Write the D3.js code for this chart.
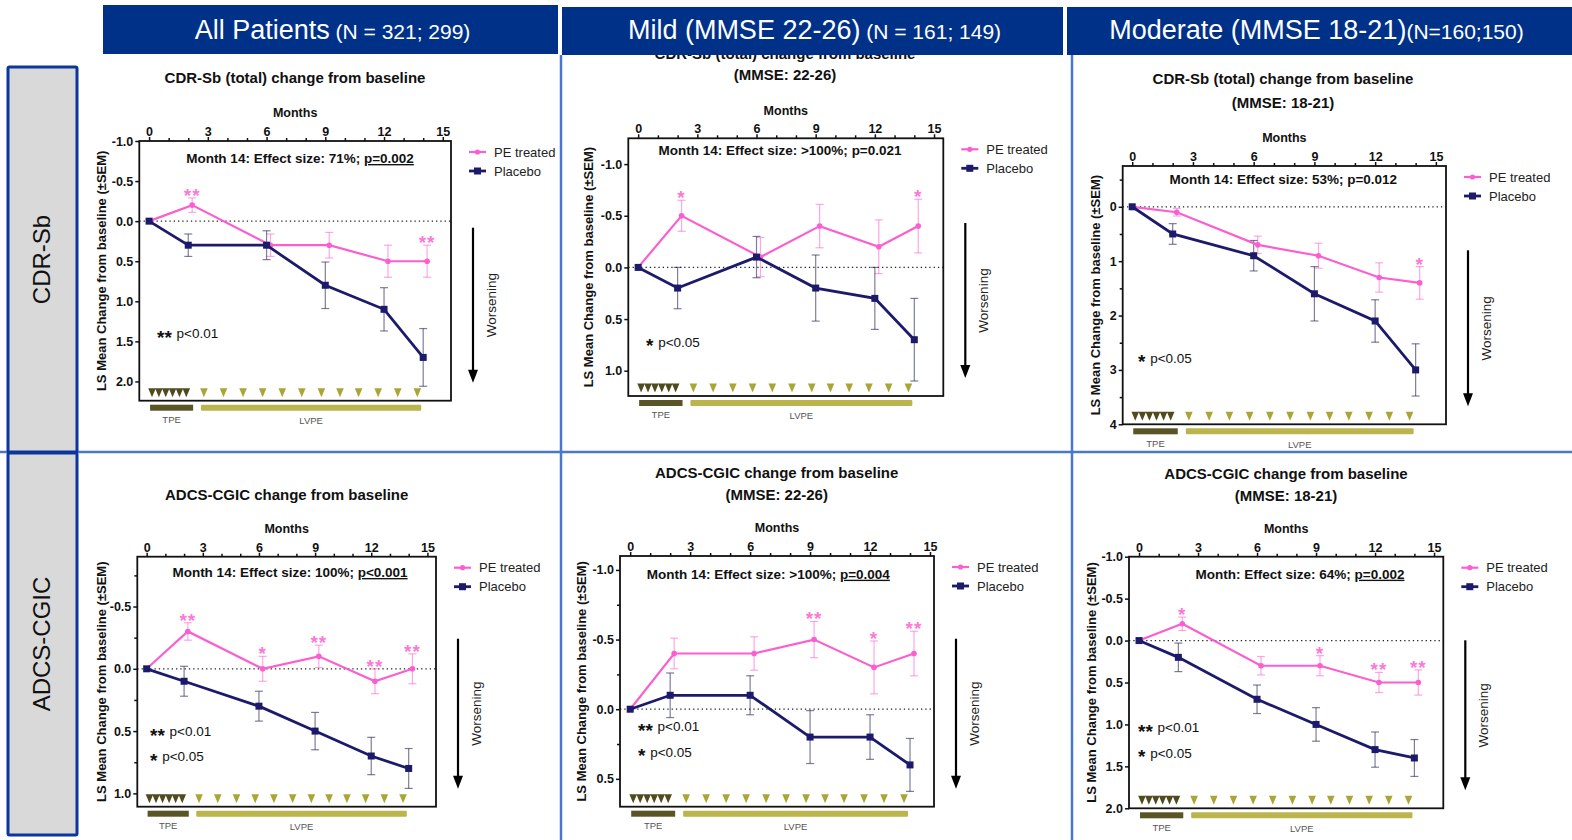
<!DOCTYPE html>
<html><head><meta charset="utf-8">
<script src="https://cdn.jsdelivr.net/npm/d3@7"></script>
<style>body{margin:0;background:#fff}svg{display:block}</style>
</head><body>
<svg id="c" width="1572" height="840"></svg>
<script>
// ---------- DATA ----------
const headerMain = ["All Patients", "Mild (MMSE 22-26)", "Moderate (MMSE 18-21)"];
const headerN = [" (N = 321; 299)", " (N = 161; 149)", "(N=160;150)"];
const rowLabels = ["CDR-Sb", "ADCS-CGIC"];
const seriesNames = ["PE treated", "Placebo"];

const monthsPE = [0, 2.2, 6.2, 9.2, 12.2, 14.2];
const monthsPlacebo = [0, 2, 6, 9, 12, 14];
const xMajorTicks = [0, 3, 6, 9, 12, 15];
const xMinorTicks = [1, 2, 4, 5, 7, 8, 10, 11, 13, 14];
const tpeMonths = [0.15, 0.5, 0.85, 1.2, 1.55, 1.9];
const lvpeMonths = [2.8, 3.8, 4.8, 5.8, 6.8, 7.8, 8.8, 9.75, 10.7, 11.7, 12.7, 13.7];
const tpeSpan = [0.05, 2.25];
const lvpeSpan = [2.65, 13.9];

// CDR-Sb, all patients
const allCdrPE = [0, -0.2, 0.3, 0.3, 0.5, 0.5];
const allCdrPESem = [0, 0.09, 0.14, 0.16, 0.2, 0.2];
const allCdrPlacebo = [0, 0.3, 0.3, 0.8, 1.1, 1.7];
const allCdrPlaceboSem = [0, 0.14, 0.18, 0.29, 0.27, 0.36];
const allCdrStars = ["", "**", "", "", "", "**"];
// CDR-Sb, mild
const mildCdrPE = [0, -0.5, -0.1, -0.4, -0.2, -0.4];
const mildCdrPESem = [0, 0.15, 0.19, 0.21, 0.26, 0.26];
const mildCdrPlacebo = [0, 0.2, -0.1, 0.2, 0.3, 0.7];
const mildCdrPlaceboSem = [0, 0.2, 0.2, 0.32, 0.3, 0.4];
const mildCdrStars = ["", "*", "", "", "", "*"];
// CDR-Sb, moderate
const modCdrPE = [0, 0.1, 0.7, 0.9, 1.3, 1.4];
const modCdrPESem = [0, 0.07, 0.16, 0.23, 0.27, 0.3];
const modCdrPlacebo = [0, 0.5, 0.9, 1.6, 2.1, 3.0];
const modCdrPlaceboSem = [0, 0.19, 0.28, 0.5, 0.39, 0.48];
const modCdrStars = ["", "", "", "", "", "*"];
// ADCS-CGIC, all patients
const allAdcsPE = [0, -0.3, 0, -0.1, 0.1, 0];
const allAdcsPESem = [0, 0.07, 0.1, 0.09, 0.1, 0.12];
const allAdcsPlacebo = [0, 0.1, 0.3, 0.5, 0.7, 0.8];
const allAdcsPlaceboSem = [0, 0.12, 0.12, 0.15, 0.15, 0.16];
const allAdcsStars = ["", "**", "*", "**", "**", "**"];
// ADCS-CGIC, mild
const mildAdcsPE = [0, -0.4, -0.4, -0.5, -0.3, -0.4];
const mildAdcsPESem = [0, 0.11, 0.12, 0.13, 0.19, 0.16];
const mildAdcsPlacebo = [0, -0.1, -0.1, 0.2, 0.2, 0.4];
const mildAdcsPlaceboSem = [0, 0.16, 0.14, 0.19, 0.16, 0.19];
const mildAdcsStars = ["", "", "", "**", "*", "**"];
// ADCS-CGIC, moderate
const modAdcsPE = [0, -0.2, 0.3, 0.3, 0.5, 0.5];
const modAdcsPESem = [0, 0.08, 0.11, 0.12, 0.12, 0.15];
const modAdcsPlacebo = [0, 0.2, 0.7, 1.0, 1.3, 1.4];
const modAdcsPlaceboSem = [0, 0.17, 0.17, 0.2, 0.21, 0.22];
const modAdcsStars = ["", "*", "", "*", "**", "**"];

// tick labels
const yTicksAllCdr = [-1, -0.5, 0, 0.5, 1, 1.5, 2];
const yTicksMildCdr = [-1, -0.5, 0, 0.5, 1];
const yTicksModCdr = [0, 1, 2, 3, 4];
const yMinorModCdr = [-0.5, 0.5, 1.5, 2.5, 3.5];
const yTicksAllAdcs = [-0.5, 0, 0.5, 1];
const yMinorAllAdcs = [-0.75, -0.25, 0.25, 0.75];
const yTicksMildAdcs = [-1, -0.5, 0, 0.5];
const yMinorMildAdcs = [-0.75, -0.25, 0.25];
const yTicksModAdcs = [-1, -0.5, 0, 0.5, 1, 1.5, 2];

// texts
const titlesAllCdr = ["CDR-Sb (total) change from baseline"];
const titlesMildCdr = ["CDR-Sb (total) change from baseline", "(MMSE: 22-26)"];
const titlesModCdr = ["CDR-Sb (total) change from baseline", "(MMSE: 18-21)"];
const titlesAllAdcs = ["ADCS-CGIC change from baseline"];
const titlesMildAdcs = ["ADCS-CGIC change from baseline", "(MMSE: 22-26)"];
const titlesModAdcs = ["ADCS-CGIC change from baseline", "(MMSE: 18-21)"];
const effAllCdr = ["Month 14: Effect size: 71%; ", "p=0.002", true];
const effMildCdr = ["Month 14: Effect size: >100%; ", "p=0.021", false];
const effModCdr = ["Month 14: Effect size: 53%; ", "p=0.012", false];
const effAllAdcs = ["Month 14: Effect size: 100%; ", "p<0.001", true];
const effMildAdcs = ["Month 14: Effect size: >100%; ", "p=0.004", true];
const effModAdcs = ["Month: Effect size: 64%; ", "p=0.002", true];
const notesDouble = [["**", " p<0.01"], ["*", " p<0.05"]];
const notesSingle01 = [["**", " p<0.01"]];
const notesSingle05 = [["*", " p<0.05"]];

// ---------- LAYOUT ----------
const PINK = "#fb5fcf", NAVY = "#1d1a6c";
const FONT = "'Liberation Sans', Arial, Helvetica, sans-serif";
const panels = [
  {pe: allCdrPE, peSem: allCdrPESem, pl: allCdrPlacebo, plSem: allCdrPlaceboSem, stars: allCdrStars,
   titles: titlesAllCdr, eff: effAllCdr, notes: notesSingle01, yt: yTicksAllCdr, ym: [], fmt: 1,
   l: 139.3, r: 451, t: 141, b: 400.7, xd: [-0.5, 15.42], yd: [-1, 2.24],
   titleX: 295, titleY: [78], effX: 300, effY: 158.3, noteX: 157, noteY: [338.3], ylabX: 101.7, arrowH: 155},
  {pe: mildCdrPE, peSem: mildCdrPESem, pl: mildCdrPlacebo, plSem: mildCdrPlaceboSem, stars: mildCdrStars,
   titles: titlesMildCdr, eff: effMildCdr, notes: notesSingle05, yt: yTicksMildCdr, ym: [], fmt: 1,
   l: 628.3, r: 943.3, t: 138.3, b: 396, xd: [-0.5, 15.47], yd: [-1.25, 1.245],
   titleX: 785, titleY: [53.3, 74.3], effX: 780, effY: 150, noteX: 646, noteY: [346.7], ylabX: 588.3, arrowH: 155},
  {pe: modCdrPE, peSem: modCdrPESem, pl: modCdrPlacebo, plSem: modCdrPlaceboSem, stars: modCdrStars,
   titles: titlesModCdr, eff: effModCdr, notes: notesSingle05, yt: yTicksModCdr, ym: yMinorModCdr, fmt: 0,
   l: 1122.7, r: 1446, t: 166, b: 424.3, xd: [-0.47, 15.5], yd: [-0.75, 4],
   titleX: 1283, titleY: [79, 102.3], effX: 1283.3, effY: 179, noteX: 1138, noteY: [362.7], ylabX: 1095, arrowH: 156},
  {pe: allAdcsPE, peSem: allAdcsPESem, pl: allAdcsPlacebo, plSem: allAdcsPlaceboSem, stars: allAdcsStars,
   titles: titlesAllAdcs, eff: effAllAdcs, notes: notesDouble, yt: yTicksAllAdcs, ym: yMinorAllAdcs, fmt: 1,
   l: 137.3, r: 436, t: 556.7, b: 806.7, xd: [-0.5, 15.46], yd: [-0.9, 1.107],
   titleX: 286.7, titleY: [494.3], effX: 290, effY: 572.3, noteX: 150, noteY: [736, 761], ylabX: 101.7, arrowH: 150},
  {pe: mildAdcsPE, peSem: mildAdcsPESem, pl: mildAdcsPlacebo, plSem: mildAdcsPlaceboSem, stars: mildAdcsStars,
   titles: titlesMildAdcs, eff: effMildAdcs, notes: notesDouble, yt: yTicksMildAdcs, ym: yMinorMildAdcs, fmt: 1,
   l: 620, r: 934, t: 556, b: 806.7, xd: [-0.51, 15.2], yd: [-1.1, 0.7],
   titleX: 776.7, titleY: [472.3, 494.3], effX: 768.3, effY: 574, noteX: 638, noteY: [731, 756.7], ylabX: 581.7, arrowH: 150},
  {pe: modAdcsPE, peSem: modAdcsPESem, pl: modAdcsPlacebo, plSem: modAdcsPlaceboSem, stars: modAdcsStars,
   titles: titlesModAdcs, eff: effModAdcs, notes: notesDouble, yt: yTicksModAdcs, ym: [], fmt: 1,
   l: 1129, r: 1443.3, t: 556.7, b: 808.3, xd: [-0.51, 15.47], yd: [-1, 2],
   titleX: 1286, titleY: [473.3, 495.7], effX: 1300, effY: 574, noteX: 1138, noteY: [732.3, 757.7], ylabX: 1091.7, arrowH: 150}
];

const svg = d3.select("#c").attr("font-family", FONT);
svg.append("rect").attr("width", 1572).attr("height", 840).attr("fill", "#fff");

function fmtTick(d, dec) {
  return dec ? d.toFixed(1) : String(d);
}

function drawPanel(p) {
  const g = svg.append("g");
  const x = d3.scaleLinear().domain(p.xd).range([p.l, p.r]);
  const y = d3.scaleLinear().domain(p.yd).range([p.t, p.b]);
  const cx = (p.l + p.r) / 2, cy = (p.t + p.b) / 2;

  // titles
  p.titles.forEach((t, i) => g.append("text").attr("x", p.titleX).attr("y", p.titleY[i]).attr("dy", "0.35em")
    .attr("text-anchor", "middle").attr("font-weight", "bold").attr("font-size", 15).attr("fill", "#111").text(t));
  g.append("text").attr("x", cx).attr("y", p.t - 28).attr("dy", "0.35em").attr("text-anchor", "middle")
    .attr("font-weight", "bold").attr("font-size", 12.5).attr("fill", "#111").text("Months");

  // axes
  const top = g.append("g").attr("transform", `translate(0,${p.t})`)
    .call(d3.axisTop(x).tickValues(xMajorTicks).tickSize(4).tickPadding(1).tickFormat(d3.format("d")));
  const topMinor = g.append("g").attr("transform", `translate(0,${p.t})`)
    .call(d3.axisTop(x).tickValues(xMinorTicks).tickSize(3).tickFormat(""));
  const left = g.append("g").attr("transform", `translate(${p.l},0)`)
    .call(d3.axisLeft(y).tickValues(p.yt).tickSize(4).tickPadding(2).tickFormat(d => fmtTick(d, p.fmt)));
  const leftMinor = g.append("g").attr("transform", `translate(${p.l},0)`)
    .call(d3.axisLeft(y).tickValues(p.ym).tickSize(3).tickFormat(""));
  [top, topMinor, left, leftMinor].forEach(a => {
    a.select(".domain").remove();
    a.selectAll("line").attr("stroke", "#111").attr("stroke-width", 1.5);
    a.selectAll("text").attr("font-family", FONT).attr("font-weight", "bold").attr("font-size", 12.5).attr("fill", "#111");
  });

  // y label
  g.append("text").attr("transform", `translate(${p.ylabX},${cy}) rotate(-90)`).attr("dy", "0.35em")
    .attr("text-anchor", "middle").attr("font-weight", "bold").attr("font-size", 13).attr("fill", "#111")
    .text("LS Mean Change from baseline (\u00B1SEM)");

  // zero dotted line
  g.append("line").attr("x1", p.l).attr("x2", p.r).attr("y1", y(0)).attr("y2", y(0))
    .attr("stroke", "#222").attr("stroke-width", 1.3).attr("stroke-dasharray", "1.3,3");

  // effect text
  const et = g.append("text").attr("x", p.effX).attr("y", p.effY).attr("dy", "0.35em").attr("text-anchor", "middle")
    .attr("font-weight", "bold").attr("font-size", 13.5).attr("fill", "#111");
  et.append("tspan").text(p.eff[0]);
  et.append("tspan").attr("text-decoration", p.eff[2] ? "underline" : null).text(p.eff[1]);

  // notes
  p.notes.forEach((n, i) => {
    const nt = g.append("text").attr("x", p.noteX).attr("y", p.noteY[i]).attr("dy", "0.35em")
      .attr("font-size", 13.5).attr("fill", "#111");
    nt.append("tspan").attr("font-weight", "bold").attr("font-size", 19).attr("dy", "0.3em").text(n[0]);
    nt.append("tspan").attr("dy", "-0.42em").attr("dx", 1).text(n[1]);
  });

  // treatment triangles and bars
  const triY = p.b - 8;
  const tri = (m) => `M${x(m) - 3.8},${triY - 4.5}L${x(m) + 3.8},${triY - 4.5}L${x(m)},${triY + 4.5}Z`;
  g.selectAll(null).data(tpeMonths).enter().append("path").attr("d", tri).attr("fill", "#4f4b1f");
  g.selectAll(null).data(lvpeMonths).enter().append("path").attr("d", tri).attr("fill", "#aaa635");
  g.append("rect").attr("x", x(tpeSpan[0])).attr("width", x(tpeSpan[1]) - x(tpeSpan[0]))
    .attr("y", p.b + 4).attr("height", 6).attr("fill", "#5a5526");
  g.append("rect").attr("x", x(lvpeSpan[0])).attr("width", x(lvpeSpan[1]) - x(lvpeSpan[0]))
    .attr("y", p.b + 4).attr("height", 6).attr("fill", "#bcb44c").attr("rx", 1);
  g.append("text").attr("x", x((tpeSpan[0] + tpeSpan[1]) / 2)).attr("y", p.b + 19).attr("dy", "0.35em")
    .attr("text-anchor", "middle").attr("font-size", 9.5).attr("fill", "#555").text("TPE");
  g.append("text").attr("x", x((lvpeSpan[0] + lvpeSpan[1]) / 2)).attr("y", p.b + 20).attr("dy", "0.35em")
    .attr("text-anchor", "middle").attr("font-size", 9.5).attr("fill", "#555").text("LVPE");

  // series
  const series = [
    {m: monthsPE, v: p.pe, s: p.peSem, c: PINK, w: 2.2, ec: "rgba(251,95,207,0.55)", sym: "circle"},
    {m: monthsPlacebo, v: p.pl, s: p.plSem, c: NAVY, w: 2.8, ec: "rgba(40,40,90,0.6)", sym: "square"}
  ];
  series.forEach(se => {
    se.v.forEach((v, i) => {
      if (!se.s[i]) return;
      const xx = x(se.m[i]), y1 = y(v - se.s[i]), y2 = y(v + se.s[i]);
      g.append("line").attr("x1", xx).attr("x2", xx).attr("y1", y1).attr("y2", y2).attr("stroke", se.ec).attr("stroke-width", 1.2);
      [y1, y2].forEach(yy => g.append("line").attr("x1", xx - 4).attr("x2", xx + 4).attr("y1", yy).attr("y2", yy)
        .attr("stroke", se.ec).attr("stroke-width", 1.2));
    });
  });
  series.forEach(se => {
    const line = d3.line().x((d, i) => x(se.m[i])).y(d => y(d));
    g.append("path").attr("d", line(se.v)).attr("fill", "none").attr("stroke", se.c).attr("stroke-width", se.w);
    se.v.forEach((v, i) => {
      if (se.sym === "square") {
        g.append("rect").attr("x", x(se.m[i]) - 3.5).attr("y", y(v) - 3.5).attr("width", 7).attr("height", 7).attr("fill", se.c);
      } else {
        g.append("circle").attr("cx", x(se.m[i])).attr("cy", y(v)).attr("r", 2.8).attr("fill", se.c);
      }
    });
  });

  // stars
  p.stars.forEach((s, i) => {
    if (!s) return;
    g.append("text").attr("x", x(monthsPE[i])).attr("y", y(p.pe[i] - p.peSem[i]) + 4)
      .attr("text-anchor", "middle").attr("font-size", 19).attr("font-weight", "bold").attr("fill", PINK)
      .attr("fill-opacity", 0.85).attr("letter-spacing", 1).text(s);
  });

  // box
  g.append("rect").attr("x", p.l).attr("y", p.t).attr("width", p.r - p.l).attr("height", p.b - p.t)
    .attr("fill", "none").attr("stroke", "#111").attr("stroke-width", 1.8);

  // legend
  seriesNames.forEach((n, i) => {
    const ly = p.t + 11 + i * 19;
    const c = i === 0 ? PINK : NAVY;
    g.append("line").attr("x1", p.r + 18).attr("x2", p.r + 35).attr("y1", ly).attr("y2", ly)
      .attr("stroke", c).attr("stroke-width", i === 0 ? 2.2 : 2.8);
    if (i === 0) g.append("circle").attr("cx", p.r + 26.5).attr("cy", ly).attr("r", 2.6).attr("fill", c);
    else g.append("rect").attr("x", p.r + 23).attr("y", ly - 3.5).attr("width", 7).attr("height", 7).attr("fill", c);
    g.append("text").attr("x", p.r + 43).attr("y", ly).attr("dy", "0.35em").attr("font-size", 13).attr("fill", "#222").text(n);
  });

  // worsening arrow
  const ax = p.r + 22, ay2 = p.b - 18, ay1 = ay2 - p.arrowH;
  g.append("line").attr("x1", ax).attr("x2", ax).attr("y1", ay1).attr("y2", ay2 - 10).attr("stroke", "#000").attr("stroke-width", 2.2);
  g.append("path").attr("d", `M${ax - 5},${ay2 - 13}L${ax + 5},${ay2 - 13}L${ax},${ay2}Z`).attr("fill", "#000");
  g.append("text").attr("transform", `translate(${p.r + 40},${(ay1 + ay2) / 2}) rotate(-90)`).attr("dy", "0.35em")
    .attr("text-anchor", "middle").attr("font-size", 13.5).attr("fill", "#222").text("Worsening");
}

panels.forEach(drawPanel);

// ---------- FRAME ----------
const BLUE_LINE = "#4a77cc";
svg.append("line").attr("x1", 0).attr("x2", 1572).attr("y1", 452).attr("y2", 452).attr("stroke", BLUE_LINE).attr("stroke-width", 2.5);
[561, 1072].forEach(xx => svg.append("line").attr("x1", xx).attr("x2", xx).attr("y1", 55).attr("y2", 840)
  .attr("stroke", BLUE_LINE).attr("stroke-width", 2.5));

// row label boxes
const rowBoxes = [[67, 452], [453, 835]];
rowLabels.forEach((lab, i) => {
  const [y0, y1] = rowBoxes[i];
  svg.append("rect").attr("x", 8).attr("y", y0).attr("width", 69).attr("height", y1 - y0)
    .attr("fill", "#d9d9d9").attr("stroke", "#0b369c").attr("stroke-width", 3).attr("rx", 1.5);
  svg.append("text").attr("transform", `translate(42,${(y0 + y1) / 2}) rotate(-90)`).attr("dy", "0.35em")
    .attr("text-anchor", "middle").attr("font-family", FONT)
    .attr("font-size", 24).attr("fill", "#111").text(lab);
});

// header bars
const headerBoxes = [[103, 5, 558, 54], [562, 7, 1063, 55], [1067, 7, 1572, 55]];
headerMain.forEach((h, i) => {
  const [x0, y0, x1, y1] = headerBoxes[i];
  svg.append("rect").attr("x", x0).attr("y", y0).attr("width", x1 - x0).attr("height", y1 - y0).attr("fill", "#003189");
  const t = svg.append("text").attr("x", (x0 + x1) / 2 + (i === 2 ? -3 : 2)).attr("y", 39).attr("text-anchor", "middle")
    .attr("font-family", FONT).attr("fill", "#fff");
  t.append("tspan").attr("font-size", 27).text(h);
  t.append("tspan").attr("font-size", 21).text(headerN[i]);
});
</script>
</body></html>
